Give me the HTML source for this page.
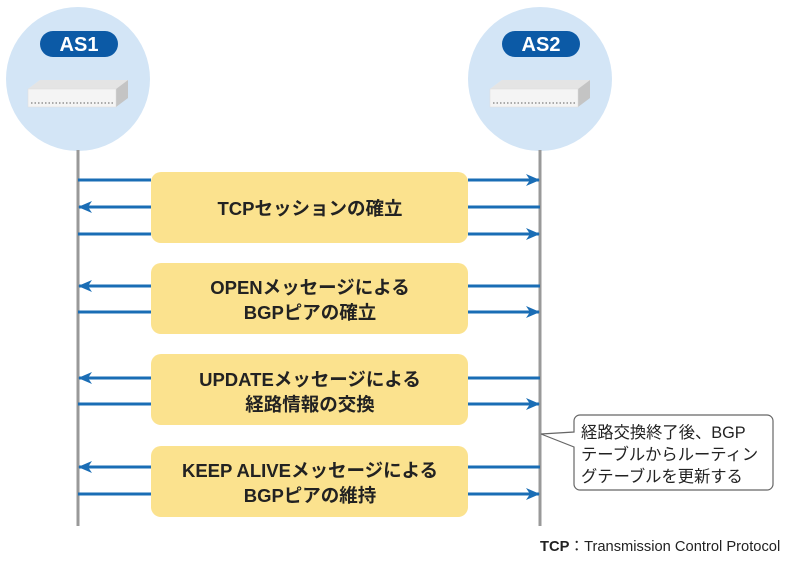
<!DOCTYPE html>
<html><head><meta charset="utf-8"><style>
body{margin:0;background:#fff;}
svg text{font-family:"Liberation Sans","Noto Sans CJK JP",sans-serif;}
</style></head><body>
<svg width="800" height="557" viewBox="0 0 800 557" xmlns="http://www.w3.org/2000/svg">
<defs>
<marker id="ah" markerWidth="14" markerHeight="14" refX="13" refY="7" orient="auto" markerUnits="userSpaceOnUse">
<path d="M0,1 L14,7 L0,13 L4,7 Z" fill="#1a6db5"/></marker>
<g id="sw">
<polygon points="-50,-8 -38,-17 50,-17 50,0 38,10 -50,10" fill="#f2f2f2"/>
<polygon points="-50,-8 38,-8 50,-17 -38,-17" fill="#e4e4e4"/>
<polygon points="38,-8 50,-17 50,1 38,10" fill="#c4c4c4"/>
<rect x="-50" y="-8" width="88" height="18" fill="#f4f4f4" stroke="#ddd" stroke-width="0.5"/>
<line x1="-47" y1="6" x2="35" y2="6" stroke="#aaa" stroke-width="2" stroke-dasharray="1.5,2"/>
</g>
</defs>
<circle cx="78" cy="79" r="72" fill="#d3e5f6"/>
<circle cx="540" cy="79" r="72" fill="#d3e5f6"/>
<rect x="40" y="31" width="78" height="26" rx="13" fill="#0c5aa6"/>
<rect x="502" y="31" width="78" height="26" rx="13" fill="#0c5aa6"/>
<text x="79" y="51" font-size="20" font-weight="bold" fill="#fff" text-anchor="middle">AS1</text>
<text x="541" y="51" font-size="20" font-weight="bold" fill="#fff" text-anchor="middle">AS2</text>
<use href="#sw" x="78" y="97"/>
<use href="#sw" x="540" y="97"/>
<line x1="78" y1="150" x2="78" y2="526" stroke="#999" stroke-width="3"/>
<line x1="540" y1="150" x2="540" y2="526" stroke="#999" stroke-width="3"/>
<g fill="#fbe28e">
<rect x="151" y="172" width="317" height="71" rx="10"/>
<rect x="151" y="263" width="317" height="71" rx="10"/>
<rect x="151" y="354" width="317" height="71" rx="10"/>
<rect x="151" y="446" width="317" height="71" rx="10"/>
</g>
<g stroke="#1a6db5" stroke-width="3" fill="none">
<line x1="78" y1="180" x2="151" y2="180"/><line x1="468" y1="180" x2="539" y2="180" marker-end="url(#ah)"/>
<line x1="78" y1="234" x2="151" y2="234"/><line x1="468" y1="234" x2="539" y2="234" marker-end="url(#ah)"/>
<line x1="78" y1="312" x2="151" y2="312"/><line x1="468" y1="312" x2="539" y2="312" marker-end="url(#ah)"/>
<line x1="78" y1="404" x2="151" y2="404"/><line x1="468" y1="404" x2="539" y2="404" marker-end="url(#ah)"/>
<line x1="78" y1="494" x2="151" y2="494"/><line x1="468" y1="494" x2="539" y2="494" marker-end="url(#ah)"/>
<line x1="540" y1="207" x2="468" y2="207"/><line x1="151" y1="207" x2="79" y2="207" marker-end="url(#ah)"/>
<line x1="540" y1="286" x2="468" y2="286"/><line x1="151" y1="286" x2="79" y2="286" marker-end="url(#ah)"/>
<line x1="540" y1="378" x2="468" y2="378"/><line x1="151" y1="378" x2="79" y2="378" marker-end="url(#ah)"/>
<line x1="540" y1="467" x2="468" y2="467"/><line x1="151" y1="467" x2="79" y2="467" marker-end="url(#ah)"/>
</g>
<g font-size="18.5" font-weight="bold" fill="#222" text-anchor="middle">
<text x="310" y="215">TCPセッションの確立</text>
<text x="310" y="294">OPENメッセージによる</text>
<text x="310" y="319">BGPピアの確立</text>
<text x="310" y="386">UPDATEメッセージによる</text>
<text x="310" y="411">経路情報の交換</text>
<text x="310" y="477">KEEP ALIVEメッセージによる</text>
<text x="310" y="502">BGPピアの維持</text>
</g>
<path d="M580,415 H767 a6,6 0 0 1 6,6 V484 a6,6 0 0 1 -6,6 H580 a6,6 0 0 1 -6,-6 V447 L541,434 L574,432 V421 a6,6 0 0 1 6,-6 Z" fill="#fff" stroke="#666" stroke-width="1.2"/>
<g font-size="16.3" fill="#222">
<text x="581" y="438">経路交換終了後、BGP</text>
<text x="581" y="460">テーブルからルーティン</text>
<text x="581" y="482">グテーブルを更新する</text>
</g>
<text x="540" y="551" font-size="14.7" fill="#222"><tspan font-weight="bold">TCP</tspan>：Transmission Control Protocol</text>
</svg>
</body></html>
